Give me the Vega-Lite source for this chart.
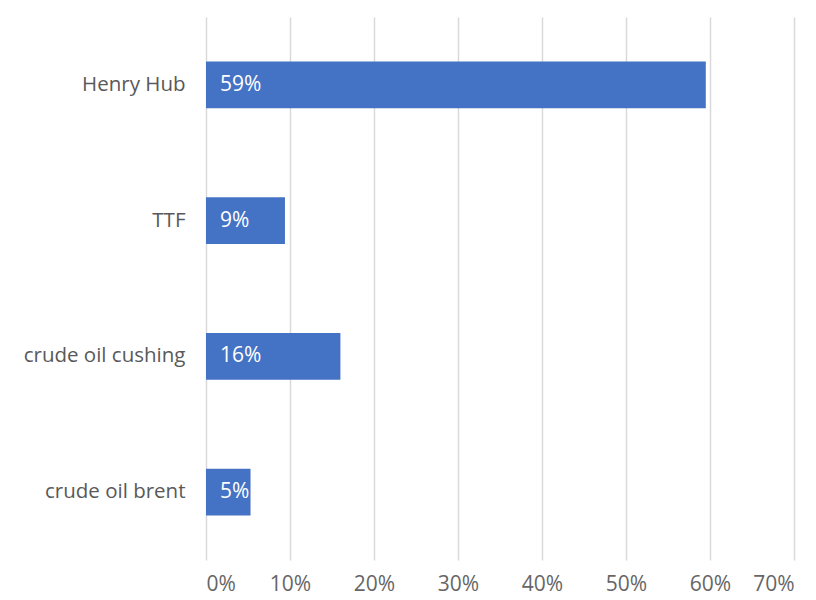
{
  "$schema": "https://vega.github.io/schema/vega-lite/v6.json",
  "autosize": "none",
  "width": 588,
  "height": 543,
  "padding": {"left": 206, "top": 17, "right": 22, "bottom": 40},
  "background": "white",
  "config": {"view": {"stroke": null}, "font": "Open Sans"},
  "data": {"values": [
    {"market": "Henry Hub", "share": 0.595, "label": "59%"},
    {"market": "TTF", "share": 0.094, "label": "9%"},
    {"market": "crude oil cushing", "share": 0.16, "label": "16%"},
    {"market": "crude oil brent", "share": 0.053, "label": "5%"}
  ]},
  "encoding": {
    "y": {"field": "market", "type": "nominal", "sort": null,
      "scale": {"paddingInner": 0.654, "paddingOuter": 0.327},
      "axis": {"title": null, "domain": false, "ticks": false, "labelPadding": 21, "labelFontSize": 20.5, "labelColor": "#595959", "labelFont": "Open Sans"}},
    "x": {"field": "share", "type": "quantitative",
      "scale": {"domain": [0, 0.7], "nice": false},
      "axis": {"title": null, "format": ".0%", "values": [0, 0.1, 0.2, 0.3, 0.4, 0.5, 0.6, 0.7], "domain": false, "ticks": false, "labelPadding": 13, "labelFontSize": 21, "labelColor": "#666666", "gridColor": "#d9d9d9", "gridWidth": 1.5, "labelFont": "Open Sans"}}
  },
  "layer": [
    {"mark": {"type": "bar", "color": "#4472C4"}},
    {"mark": {"type": "text", "align": "left", "baseline": "middle", "dx": 14, "color": "white", "fontSize": 21, "font": "Open Sans"},
     "encoding": {"x": {"datum": 0}, "text": {"field": "label"}}}
  ]
}
